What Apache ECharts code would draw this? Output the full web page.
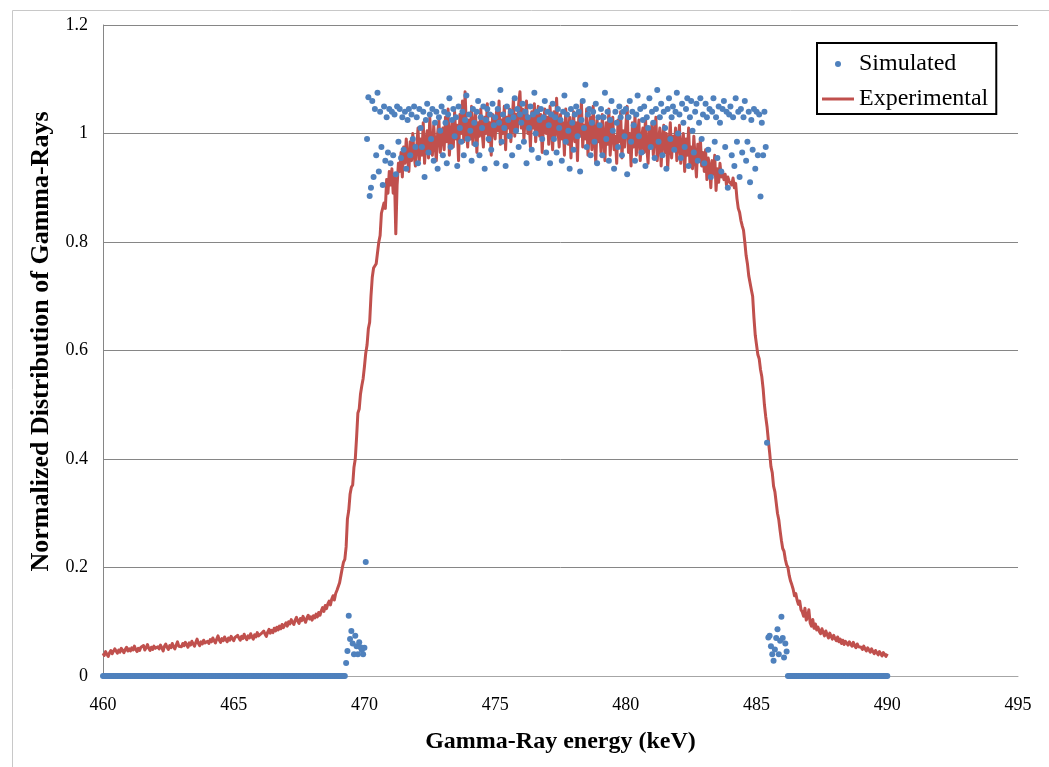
<!DOCTYPE html>
<html>
<head>
<meta charset="utf-8">
<script src="https://cdn.jsdelivr.net/npm/echarts@6/dist/echarts.min.js"></script>
<style>html,body{margin:0;padding:0;background:#fff;}#chart{width:1049px;height:767px;}</style>
</head>
<body>
<div id="chart"></div>
<script>
// Energy grid: each row covers 1 keV starting at rowStart + rowIndex, sampled every 0.05 keV
const rowStart = 460;
const step = 0.05;
const xTicks = [460, 465, 470, 475, 480, 485, 490, 495];
const yTicks = [0, 0.2, 0.4, 0.6, 0.8, 1, 1.2];

// Experimental (rows of 0.05 keV samples, one row per keV)
const experimentalRows = [
[0.042,0.038,0.045,0.040,0.036,0.043,0.047,0.041,0.044,0.050,0.046,0.042,0.048,0.044,0.051,0.047,0.043,0.049,0.053,0.046],
[0.050,0.046,0.052,0.048,0.055,0.049,0.045,0.051,0.047,0.053,0.050,0.056,0.048,0.052,0.058,0.051,0.047,0.053,0.049,0.055],
[0.051,0.048,0.054,0.050,0.057,0.052,0.046,0.055,0.059,0.053,0.049,0.056,0.052,0.060,0.054,0.050,0.057,0.063,0.055,0.058],
[0.054,0.060,0.056,0.062,0.058,0.053,0.061,0.057,0.064,0.059,0.055,0.062,0.068,0.060,0.056,0.063,0.059,0.066,0.061,0.058],
[0.064,0.060,0.067,0.063,0.070,0.065,0.061,0.068,0.074,0.066,0.062,0.069,0.065,0.072,0.067,0.063,0.070,0.066,0.073,0.069],
[0.065,0.071,0.068,0.075,0.070,0.066,0.073,0.069,0.077,0.071,0.067,0.074,0.070,0.078,0.072,0.068,0.076,0.072,0.080,0.074],
[0.071,0.078,0.075,0.083,0.077,0.073,0.081,0.086,0.079,0.084,0.080,0.088,0.083,0.090,0.085,0.092,0.087,0.095,0.089,0.094],
[0.098,0.092,0.100,0.096,0.104,0.099,0.095,0.103,0.108,0.101,0.097,0.106,0.102,0.110,0.104,0.099,0.107,0.112,0.105,0.109],
[0.103,0.111,0.107,0.114,0.109,0.117,0.112,0.120,0.126,0.119,0.130,0.124,0.133,0.138,0.131,0.142,0.148,0.140,0.152,0.158],
[0.165,0.172,0.185,0.198,0.210,0.215,0.238,0.290,0.305,0.335,0.348,0.352,0.385,0.400,0.440,0.485,0.492,0.520,0.535,0.548],
[0.570,0.595,0.610,0.640,0.652,0.700,0.735,0.752,0.755,0.760,0.762,0.800,0.812,0.853,0.850,0.872,0.862,0.915,0.890,0.930],
[0.905,0.935,0.890,0.920,0.815,0.905,0.945,0.930,0.965,0.920,0.975,0.945,0.990,0.955,0.930,0.985,0.950,1.000,0.960,0.940],
[0.975,1.010,0.950,0.990,0.960,1.020,0.945,0.985,1.005,0.955,1.030,0.975,0.960,1.015,0.980,0.950,1.000,1.025,0.965,0.990],
[1.010,0.970,1.030,0.985,1.045,0.960,1.000,1.020,0.975,1.040,0.990,1.015,0.950,1.035,1.000,1.060,0.985,1.077,1.010,0.975],
[1.025,0.990,1.050,0.980,1.015,1.040,0.965,1.020,0.995,1.045,1.005,0.975,1.030,1.000,1.055,0.985,1.020,0.960,1.035,1.010],
[0.990,1.040,1.005,1.060,0.980,1.025,1.000,1.050,0.970,1.030,1.010,1.045,0.985,1.020,1.065,0.995,1.035,1.005,1.055,1.077],
[1.010,1.045,0.990,1.030,1.060,1.000,1.025,0.975,1.040,1.010,1.055,0.985,1.020,1.050,0.995,1.035,0.965,1.015,1.045,1.000],
[1.030,0.980,1.050,1.005,0.970,1.040,0.995,1.065,1.010,0.975,1.035,0.990,1.020,0.960,1.045,1.000,0.980,1.030,0.955,1.010],
[1.040,0.985,1.020,0.950,1.035,0.995,1.060,0.975,1.015,0.990,1.045,0.960,1.005,1.030,0.970,1.050,0.990,0.945,1.025,0.985],
[1.010,0.965,1.035,0.990,0.950,1.020,0.980,1.045,0.960,1.000,1.030,0.970,0.995,0.945,1.025,0.985,1.040,0.955,1.005,0.975],
[1.015,1.050,0.965,1.000,0.940,1.020,0.975,1.035,0.960,0.995,1.025,0.950,0.990,1.010,0.965,1.030,0.975,0.945,1.005,0.980],
[1.020,0.960,0.995,1.030,0.950,0.985,1.010,0.940,0.990,1.015,0.965,1.000,0.935,0.980,1.020,0.955,0.995,0.970,1.010,0.950],
[0.985,1.015,0.945,0.975,1.000,0.930,0.990,0.960,1.010,0.945,0.975,0.935,0.995,0.955,0.920,0.980,0.950,0.990,0.940,0.965],
[0.930,0.970,0.915,0.955,0.940,0.900,0.950,0.925,0.960,0.895,0.935,0.910,0.945,0.920,0.930,0.915,0.925,0.905,0.920,0.912],
[0.915,0.905,0.918,0.900,0.908,0.880,0.862,0.855,0.840,0.830,0.822,0.800,0.775,0.760,0.738,0.735,0.712,0.700,0.660,0.628],
[0.610,0.592,0.585,0.565,0.552,0.530,0.500,0.478,0.460,0.435,0.412,0.386,0.375,0.350,0.340,0.320,0.300,0.288,0.268,0.250],
[0.235,0.230,0.215,0.205,0.200,0.185,0.175,0.168,0.160,0.148,0.152,0.140,0.132,0.138,0.122,0.118,0.110,0.125,0.103,0.108],
[0.122,0.098,0.092,0.104,0.088,0.096,0.085,0.090,0.082,0.078,0.087,0.080,0.074,0.083,0.076,0.070,0.079,0.073,0.068,0.075],
[0.069,0.065,0.072,0.063,0.068,0.060,0.066,0.058,0.064,0.061,0.057,0.063,0.059,0.055,0.062,0.056,0.052,0.059,0.054,0.057],
[0.053,0.049,0.055,0.050,0.046,0.052,0.048,0.044,0.050,0.045,0.041,0.047,0.043,0.039,0.045,0.041,0.037,0.043,0.040,0.036,0.041]
];

// Simulated (same grid)
const simulatedRows = [
[0,0,0,0,0,0,0,0,0,0,0,0,0,0,0,0,0,0,0,0],
[0,0,0,0,0,0,0,0,0,0,0,0,0,0,0,0,0,0,0,0],
[0,0,0,0,0,0,0,0,0,0,0,0,0,0,0,0,0,0,0,0],
[0,0,0,0,0,0,0,0,0,0,0,0,0,0,0,0,0,0,0,0],
[0,0,0,0,0,0,0,0,0,0,0,0,0,0,0,0,0,0,0,0],
[0,0,0,0,0,0,0,0,0,0,0,0,0,0,0,0,0,0,0,0],
[0,0,0,0,0,0,0,0,0,0,0,0,0,0,0,0,0,0,0,0],
[0,0,0,0,0,0,0,0,0,0,0,0,0,0,0,0,0,0,0,0],
[0,0,0,0,0,0,0,0,0,0,0,0,0,0,0,0,0,0,0,0],
[0,0,0,0,0,0,0.024,0.046,0.111,0.068,0.083,0.060,0.040,0.074,0.055,0.040,0.062,0.053,0.048,0.040],
[0.052,0.210,0.990,1.067,0.885,0.900,1.060,0.920,1.045,0.960,1.075,0.930,1.040,0.975,0.905,1.050,0.950,1.030,0.965,1.045],
[0.945,1.040,0.960,1.035,0.925,1.050,0.985,1.045,0.955,1.030,0.970,1.040,0.935,1.025,1.045,0.960,1.035,0.990,1.050,0.975],
[1.030,0.945,1.045,1.010,0.975,1.040,0.920,1.025,1.055,0.965,1.035,0.990,1.045,0.950,1.020,1.040,0.935,1.030,1.005,1.050],
[0.960,1.040,1.020,0.945,1.035,1.065,0.975,1.025,1.045,0.995,1.030,0.940,1.050,1.010,0.985,1.040,0.960,1.025,1.070,0.990],
[1.035,1.005,0.950,1.045,1.020,0.980,1.040,1.060,0.960,1.030,1.010,1.050,0.935,1.025,1.045,0.990,1.035,0.970,1.055,1.015],
[1.030,0.945,1.045,1.020,1.080,0.985,1.035,1.010,0.940,1.050,1.025,0.995,1.040,0.960,1.030,1.065,1.005,1.045,0.975,1.035],
[1.020,1.055,0.985,1.040,0.945,1.030,1.010,1.050,0.970,1.035,1.075,1.000,1.040,0.955,1.025,1.045,0.990,1.030,1.060,0.965],
[1.040,1.015,0.945,1.035,1.055,0.990,1.030,0.965,1.045,1.010,1.025,0.950,1.040,1.070,0.985,1.035,1.005,0.935,1.045,1.020],
[0.970,1.035,1.050,0.995,1.040,0.930,1.025,1.060,1.010,1.090,0.975,1.035,1.045,0.960,1.020,1.040,0.985,1.055,0.945,1.030],
[1.015,1.045,0.960,1.030,1.075,0.990,1.040,0.950,1.025,1.060,1.005,0.935,1.040,1.020,0.975,1.050,1.030,0.960,1.040,0.995],
[1.045,0.925,1.030,1.060,0.985,1.040,1.015,0.950,1.035,1.070,0.995,1.045,0.965,1.025,1.050,0.940,1.030,1.010,1.065,0.975],
[1.040,1.020,0.955,1.045,1.080,0.985,1.030,1.055,0.960,1.040,1.010,0.935,1.045,1.065,0.990,1.030,1.050,0.970,1.040,1.075],
[1.000,1.035,0.955,1.055,1.020,0.975,1.045,1.065,0.940,1.030,1.060,1.005,0.965,1.040,1.055,0.950,1.020,1.065,0.990,1.035],
[0.945,1.055,1.030,0.970,1.045,0.920,1.040,1.065,0.985,1.030,0.955,1.050,1.020,0.930,1.045,1.060,0.975,1.040,0.900,1.035],
[1.050,0.960,1.030,0.940,1.065,0.985,1.040,0.920,1.045,0.965,1.030,1.060,0.950,0.985,1.040,0.910,1.025,0.970,1.045,0.935],
[1.040,0.960,1.035,0.884,1.020,0.960,1.040,0.975,0.430,0.071,0.074,0.055,0.040,0.028,0.049,0.070,0.086,0.040,0.065,0.109],
[0.070,0.034,0.060,0.045,0,0,0,0,0,0,0,0,0,0,0,0,0,0,0,0],
[0,0,0,0,0,0,0,0,0,0,0,0,0,0,0,0,0,0,0,0],
[0,0,0,0,0,0,0,0,0,0,0,0,0,0,0,0,0,0,0,0],
[0,0,0,0,0,0,0,0,0,0,0,0,0,0,0,0,0,0,0,0,0]
];

function toPairs(rows) {
  const out = [];
  rows.forEach(function (row, r) {
    row.forEach(function (v, j) {
      out.push([Math.round((rowStart + r + j * step) * 1000) / 1000, v]);
    });
  });
  return out;
}

const serif = '"Liberation Serif", "Times New Roman", serif';
const chart = echarts.init(document.getElementById('chart'), null, { renderer: 'canvas' });
chart.setOption({
  animation: false,
  backgroundColor: '#fff',
  graphic: [{
    type: 'rect', left: 10, top: 8, z: -10,
    shape: { width: 1100, height: 800 },
    style: { fill: 'none', stroke: '#c8c8c8', lineWidth: 1 }
  }],
  grid: { left: 103, right: 31, top: 25, bottom: 91 },
  legend: {
    orient: 'vertical', left: 817, top: 43,
    itemWidth: 32, itemHeight: 6, itemGap: 11,
    padding: [9, 8, 3, 5],
    borderColor: '#000', borderWidth: 2,
    textStyle: { fontFamily: serif, fontSize: 24, color: '#000' },
    data: [
      { name: 'Simulated', icon: 'circle' },
      { name: 'Experimental', icon: 'path://M0,0 L32,0 L32,3 L0,3 Z' }
    ]
  },
  xAxis: {
    type: 'value', min: xTicks[0], max: xTicks[xTicks.length - 1], interval: 5,
    name: 'Gamma-Ray energy (keV)', nameLocation: 'middle', nameGap: 54,
    nameTextStyle: { fontFamily: serif, fontSize: 24, fontWeight: 'bold', color: '#000' },
    axisLine: { show: true, onZero: false, lineStyle: { color: '#a6a6a6', width: 1 } },
    axisTick: { show: false },
    splitLine: { show: false },
    axisLabel: { margin: 20, fontFamily: serif, fontSize: 18, color: '#000' }
  },
  yAxis: {
    type: 'value', min: yTicks[0], max: yTicks[yTicks.length - 1], interval: 0.2,
    name: 'Normalized Distribution of Gamma-Rays', nameLocation: 'middle', nameGap: 49,
    nameTextStyle: { fontFamily: serif, fontSize: 26, fontWeight: 'bold', color: '#000', padding: [0, 0, 0, 18] },
    axisLine: { show: true, lineStyle: { color: '#868686', width: 1 } },
    axisTick: { show: false },
    splitLine: { show: true, lineStyle: { color: '#868686', width: 1 } },
    axisLabel: { margin: 15, fontFamily: serif, fontSize: 18, color: '#000',
      formatter: function (v) { return String(Math.round(v * 10) / 10); } }
  },
  series: [
    {
      name: 'Experimental', type: 'line', data: toPairs(experimentalRows),
      showSymbol: false, symbol: 'none', z: 2,
      lineStyle: { color: '#C0504D', width: 3, join: 'round' },
      itemStyle: { color: '#C0504D' }
    },
    {
      name: 'Simulated', type: 'scatter', data: toPairs(simulatedRows),
      symbolSize: 6, z: 3,
      itemStyle: { color: '#4F81BD', opacity: 1 }
    }
  ]
});
</script>
</body>
</html>
